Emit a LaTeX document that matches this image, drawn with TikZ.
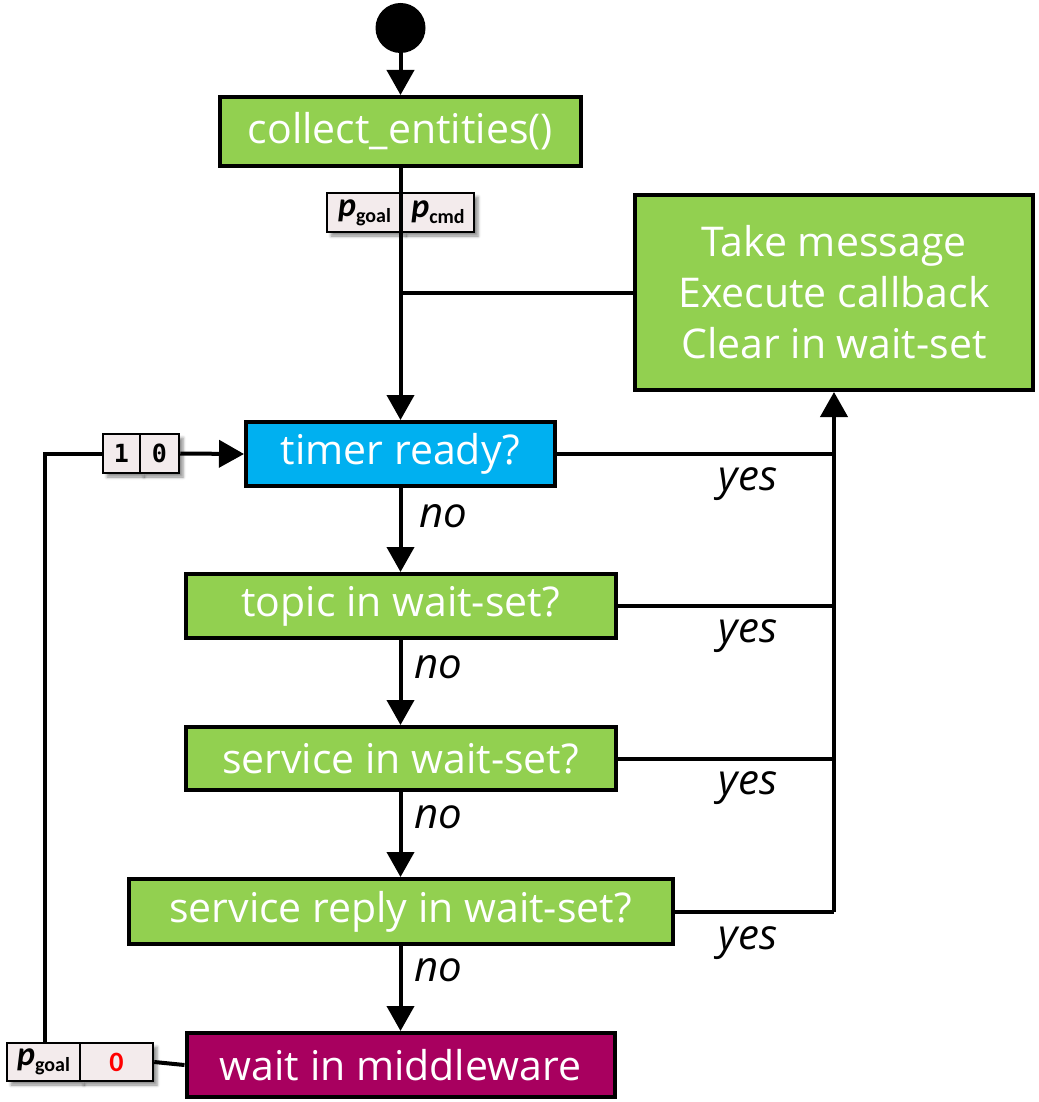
\documentclass[tikz,border=0pt]{standalone}
\usepackage{fontspec}
\setmainfont{Open Sans}
\newfontfamily\labelfont{Carlito}
\newfontfamily\digitfont{DejaVu Sans Mono}
\usetikzlibrary{arrows.meta,shadows.blur}
\definecolor{boxgreen}{HTML}{92D050}
\definecolor{boxblue}{HTML}{00B0F0}
\definecolor{boxpurple}{HTML}{A8005F}
\definecolor{cellfill}{HTML}{F3EBEC}
% bold italic p with a bold subscript word
\newcommand\cellp[1]{{\labelfont\bfseries\itshape\fontsize{34}{34}\selectfont p}\raisebox{-6pt}{\labelfont\bfseries\fontsize{20}{20}\selectfont #1}}
\begin{document}
\begin{tikzpicture}[x=1pt,y=-1pt,
  flow/.style={draw=black,line width=4pt,rectangle,inner sep=0pt,
    text=white,font=\fontsize{41}{51}\selectfont,align=center},
  greenbox/.style={flow,fill=boxgreen},
  cell/.style={draw=black,line width=2.5pt,rectangle,inner sep=0pt,fill=cellfill,
    blur shadow={shadow xshift=4pt,shadow yshift=-4pt,shadow blur radius=3pt,shadow opacity=45}},
  conn/.style={line width=4pt},
  arr/.style={conn,-{Triangle[length=25pt,width=27pt]}},
  answer/.style={font=\fontsize{42}{48}\selectfont\itshape,inner sep=0pt}
]
\useasboundingbox (0,0) rectangle (1038,1102);

% start point
\node[circle,fill=black,minimum size=50pt,inner sep=0pt] (start) at (400.5,28) {};

% main boxes
\node[greenbox,minimum width=361pt,minimum height=69pt] (collect) at (400.5,131.5) {collect\_entities()};
\node[greenbox,minimum width=398pt,minimum height=195pt] (take) at (834,292.5)
  {Take message\\Execute callback\\Clear in wait-set};
\node[flow,fill=boxblue,minimum width=309pt,minimum height=64pt] (timer) at (400.5,454) {timer ready?};
\node[greenbox,minimum width=430pt,minimum height=64pt] (topic) at (400.5,606) {topic in wait-set?};
\node[greenbox,minimum width=430pt,minimum height=63pt] (service) at (400.5,758.5) {service in wait-set?};
\node[greenbox,minimum width=544pt,minimum height=65pt] (reply) at (400.5,911.5) {service reply in wait-set?};
\node[flow,fill=boxpurple,minimum width=428pt,minimum height=64pt] (mw) at (400.5,1065) {wait in middleware};

% value cells
\node[cell,minimum width=75pt,minimum height=39pt] (pgoalA) at (364.5,212.5) {\cellp{goal}};
\node[cell,minimum width=72pt,minimum height=39pt] (pcmd) at (438,212.5) {\cellp{cmd}};
\node[cell,minimum width=37pt,minimum height=39pt] (one) at (121.5,453.5)
  {\digitfont\bfseries\fontsize{25}{25}\selectfont 1};
\node[cell,minimum width=39pt,minimum height=39pt] (zero) at (159.5,453.5)
  {\digitfont\bfseries\fontsize{25}{25}\selectfont 0};
\node[cell,minimum width=73pt,minimum height=38pt] (pgoalB) at (43.5,1062) {\cellp{goal}};
\node[cell,minimum width=73pt,minimum height=38pt] (pzero) at (116.5,1062)
  {\labelfont\bfseries\fontsize{28}{28}\selectfont\textcolor{red}{0}};

% connectors
\draw[arr] (start) -- (collect);
\draw[arr] (collect) -- (timer);
\coordinate (join) at (take.west -| collect.south);
\draw[conn] (take.west) -- (join);
\draw[arr] (timer) -- (topic);
\draw[arr] (topic) -- (service);
\draw[arr] (service) -- (reply);
\draw[arr] (reply) -- (mw);

% "yes" branches into the handling box
\coordinate (busbot) at (take.south |- reply.east);
\draw[conn] (timer.east) -- (timer.east -| busbot);
\draw[conn] (topic.east) -- (topic.east -| busbot);
\draw[conn] (service.east) -- (service.east -| busbot);
\draw[conn] (reply.east) -- (busbot);
\draw[arr] (busbot) -- (take.south);

% loop back from the middleware
\draw[conn] (mw.west) -- (pzero.east);
\coordinate (loopcorner) at (45,453.5);
\coordinate (loopfoot) at (45,1043);
\draw[conn] (loopfoot) -- (loopcorner) -- (one.west);
\draw[arr] (zero.east) -- (timer.west);

% answers
\node[answer] (yes1) at (748,484) {yes};
\node[answer] (yes2) at (748,636) {yes};
\node[answer] (yes3) at (748,788) {yes};
\node[answer] (yes4) at (748,943) {yes};
\node[answer] (no1) at (443,516) {no};
\node[answer] (no2) at (438,667) {no};
\node[answer] (no3) at (438,817) {no};
\node[answer] (no4) at (438,970) {no};
\end{tikzpicture}
\end{document}
